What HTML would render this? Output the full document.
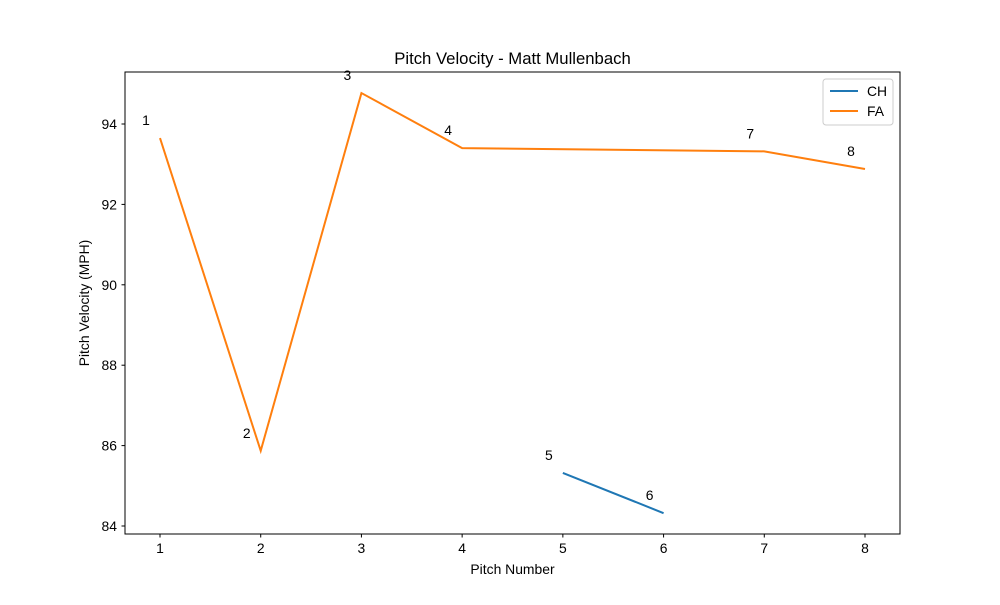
<!DOCTYPE html>
<html><head><meta charset="utf-8"><style>
body{margin:0;background:#fff}
svg text{font-family:"Liberation Sans","DejaVu Sans",sans-serif;fill:#000}
</style></head><body>
<svg id="chart" width="1000" height="600" xmlns="http://www.w3.org/2000/svg">
<rect width="1000" height="600" fill="#fff"/>
<text x="512.5" y="64" font-size="16.7" text-anchor="middle">Pitch Velocity - Matt Mullenbach</text>
<g id="xticks"></g><g id="yticks"></g><g id="series"></g>
<rect x="125" y="72" width="775" height="462" fill="none" stroke="#000" stroke-width="1"/>
<text x="512.5" y="574" font-size="13.9" text-anchor="middle">Pitch Number</text>
<text transform="translate(89,303) rotate(-90)" font-size="13.9" text-anchor="middle">Pitch Velocity (MPH)</text>
<g>
<rect x="823" y="79" width="70" height="46" rx="3" fill="#fff" stroke="#ccc"/>
<line x1="830" y1="91" x2="858" y2="91" stroke="#1f77b4" stroke-width="2"/>
<text x="867" y="96" font-size="13.9">CH</text>
<line x1="830" y1="111" x2="858" y2="111" stroke="#ff7f0e" stroke-width="2"/>
<text x="867" y="116" font-size="13.9">FA</text>
</g>
</svg>
<script>
const xTicks=[1,2,3,4,5,6,7,8];
const yTicks=[84,86,88,90,92,94];
const faPitches=[1,2,3,4,7,8];
const faVelo=[93.65,85.87,94.77,93.40,93.32,92.88];
const chPitches=[5,6];
const chVelo=[85.32,84.32];
const NS="http://www.w3.org/2000/svg";
const xs=v=>160+(v-1)*(705/7);
const ys=v=>526-(v-84)*40.2;
function mk(t,a,p){const e=document.createElementNS(NS,t);for(const k in a)e.setAttribute(k,a[k]);p.appendChild(e);return e;}
const xg=document.getElementById('xticks'),yg=document.getElementById('yticks'),sg=document.getElementById('series');
xTicks.forEach(t=>{const x=xs(t);
const l=mk('line',{x1:x,x2:x,y1:534,y2:537.5,stroke:'#000'},xg);


const tx=mk('text',{x:x,y:553,'font-size':13.9,'text-anchor':'middle'},xg);tx.textContent=t;

});
yTicks.forEach(t=>{const y=ys(t);
const l=mk('line',{x1:121.5,x2:125,y1:y,y2:y,stroke:'#000'},yg);


const tx=mk('text',{x:117,y:y+5,'font-size':13.9,'text-anchor':'end'},yg);tx.textContent=t;

});
function series(px,vy,color,name){
const pl=mk('polyline',{points:px.map((p,i)=>xs(p)+','+ys(vy[i])).join(' '),fill:'none',stroke:color,'stroke-width':2},sg);


px.forEach((p,i)=>{const tx=mk('text',{x:xs(p)-14,y:ys(vy[i])-13,'font-size':13.9,'text-anchor':'middle'},sg);tx.textContent=p;

});}
series(chPitches,chVelo,'#1f77b4','ch');
series(faPitches,faVelo,'#ff7f0e','fa');
</script>
</body></html>
